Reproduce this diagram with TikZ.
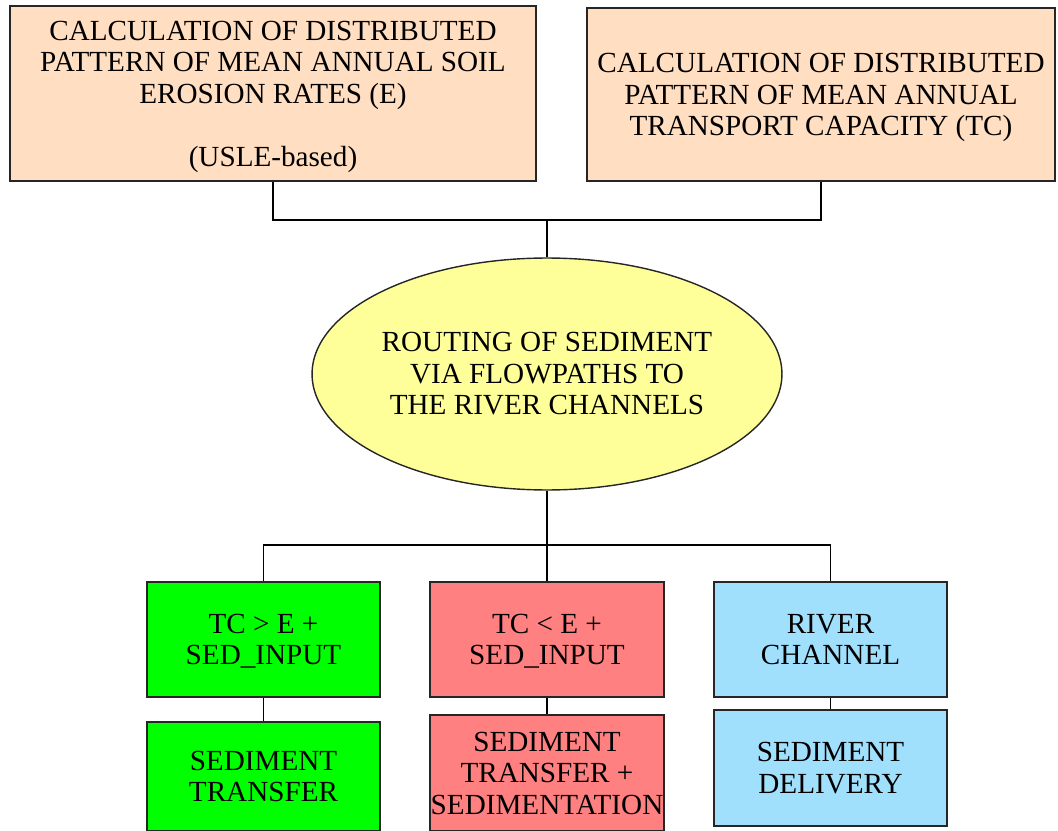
\documentclass[tikz,border=0pt]{standalone}
\usepackage{fontspec}
\setmainfont{Liberation Serif}
\usepackage{xcolor}
\usetikzlibrary{shapes.geometric}
\definecolor{peach}{RGB}{255,222,193}
\definecolor{paleyellow}{RGB}{255,255,153}
\definecolor{brightgreen}{RGB}{0,255,0}
\definecolor{salmon}{RGB}{255,128,128}
\definecolor{skyblue}{RGB}{160,224,252}

\begin{document}
\begin{tikzpicture}[x=0.02cm, y=-0.02cm,
  shape base/.style={draw=black!85, line width=0.8pt, align=center,
    inner sep=0pt, font=\fontsize{16.6}{17.9}\selectfont},
  box/.style={shape base, rectangle, text depth=0pt},
  oval/.style={shape base, ellipse},
  link/.style={draw=black, line width=0.6pt}]
  \useasboundingbox (0,0) rectangle (1058,831);

  % Calculation boxes
  \node[box, fill=peach, minimum width=10.52cm, minimum height=3.5cm] (E) at (273,93.5)
    {CALCULATION OF DISTRIBUTED\\ PATTERN OF MEAN ANNUAL SOIL\\ EROSION RATES (E)\\[17.9pt] (USLE-based)};
  \node[box, fill=peach, minimum width=9.36cm, minimum height=3.46cm] (TC) at (821,94.5)
    {CALCULATION OF DISTRIBUTED\\ PATTERN OF MEAN ANNUAL\\ TRANSPORT CAPACITY (TC)};

  % Routing
  \node[oval, fill=paleyellow, minimum width=9.4cm, minimum height=4.64cm] (route) at (547,374)
    {ROUTING OF SEDIMENT\\ VIA FLOWPATHS TO\\ THE RIVER CHANNELS};

  % Cases
  \node[box, fill=brightgreen, minimum width=4.66cm, minimum height=2.3cm] (G1) at (263.5,639.5)
    {TC > E +\\ SED\_INPUT};
  \node[box, fill=salmon, minimum width=4.68cm, minimum height=2.3cm] (R1) at (547,639.5)
    {TC < E +\\ SED\_INPUT};
  \node[box, fill=skyblue, minimum width=4.66cm, minimum height=2.3cm] (B1) at (830.5,639.5)
    {RIVER\\ CHANNEL};

  % Results
  \node[box, fill=brightgreen, minimum width=4.66cm, minimum height=2.18cm] (G2) at (263.5,776.5)
    {SEDIMENT\\ TRANSFER};
  \node[box, fill=salmon, minimum width=4.68cm, minimum height=2.32cm] (R2) at (547,773)
    {SEDIMENT\\ TRANSFER +\\ SEDIMENTATION};
  \node[box, fill=skyblue, minimum width=4.66cm, minimum height=2.32cm] (B2) at (830.5,768)
    {SEDIMENT\\ DELIVERY};

  % Connectors
  \coordinate (join) at (547,220);
  \coordinate (split) at (547,545);
  \draw[link] (E.south) |- (join) -| (TC.south);
  \draw[link] (join) -- (route.north);
  \draw[link] (route.south) -- (split);
  \draw[link] (G1.north) |- (split) -| (B1.north);
  \draw[link] (split) -- (R1.north);
  \draw[link] (G1.south) -- (G2.north);
  \draw[link] (R1.south) -- (R2.north);
  \draw[link] (B1.south) -- (B2.north);
\end{tikzpicture}
\end{document}
